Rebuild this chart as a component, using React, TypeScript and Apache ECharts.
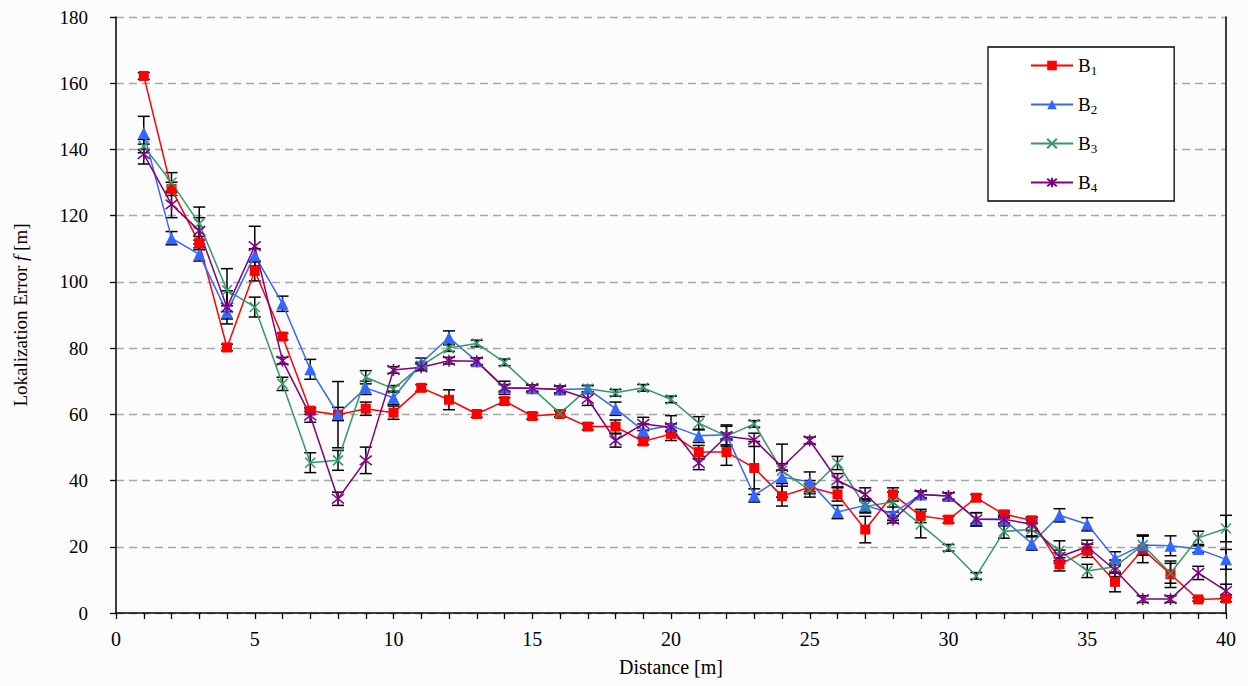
import React, { useEffect, useRef } from "react";
import * as echarts from "echarts";

const distance = [1,2,3,4,5,6,7,8,9,10,11,12,13,14,15,16,17,18,19,20,21,22,23,24,25,26,27,28,29,30,31,32,33,34,35,36,37,38,39,40];

const seriesNames = ["B1", "B2", "B3", "B4"];

const b1 = [162.2,128.1,111.7,80.2,103.3,83.5,61.1,59.9,61.7,60.5,68,64.4,60.1,64,59.5,60.1,56.3,56.3,51.8,54.1,48.6,48.6,43.8,35.3,38,35.8,25.2,35.8,29.3,28.2,34.8,29.8,28,14.7,18.8,9.4,19.2,11.7,4.1,4.4];
const b2 = [145,113.2,108.3,90.8,108,93.4,73.6,60.1,68,65,75.5,83.2,76,68,67.9,67.5,67.7,61.7,55.1,56.6,53.5,53.8,35.5,41.1,39.6,30.5,32.5,30,35.8,35.3,28.3,28.2,21,29.5,26.8,16.5,20.5,20.3,19.3,16.2];
const b3 = [141,130,117.6,97.5,92.4,69.2,45.4,46.1,71.2,67.7,74.7,80,81.4,75.7,67.9,60.3,67.7,66.5,68,64.5,57.3,53.4,57.1,43,37,45.3,32.2,33.5,26.7,19.7,11.2,24.6,25.3,18.8,12.7,14,20.5,12,22.7,25.5];
const b4 = [138.6,123.4,115.4,92.3,110.8,76.2,59.6,34.5,46.1,73.4,74.2,76.2,76,68,67.9,67.5,64.7,52.1,57.1,56.1,45.3,53.4,52.3,44.1,52.1,40.1,35.8,28.2,35.8,35.3,28.3,28.3,26.8,17,20,13,4.2,4.2,12.1,6.7];

const errB1 = [1,2,2,1,3,1,1,10,2,2,1,3,1,1,1,1,1,2,1,2,2,4,8,3,2,2,4,2,2,1,1,1,1,2,2,3,4,4,0.5,1];
const errB2 = [5,2,2,2,2,2.3,3,2,2,2,1.5,2,1,2,1,1,1,2,2,3,2,3,2,2,3,2,2,2,1,1,2,1,2,2,2,2,3,3,1,3];
const errB3 = [2,3,5,6.5,3,2,3,3,2,1,1,1,1,1,1,1,1,1,1,1,2,1,1,8,2,2,2,3,4,1,1,2,2,3,2,2,3,3,2,4];
const errB4 = [3,4,4,5,6,1,2,2,4,1,1,1,1,1,1,1,2,2,2,1,2,3,2,1,1,2,2,1,1,1,2,2,2,2,2,2,1,1,2,2];

const yTicks = [0, 20, 40, 60, 80, 100, 120, 140, 160, 180];
const xLabelTicks = [0, 5, 10, 15, 20, 25, 30, 35, 40];

const FONT = "Liberation Serif";
const colors = ["#ff0000", "#3366ff", "#339966", "#800080"];
const symbols = [
  "rect",
  "triangle",
  "path://M0,0L10,10M10,0L0,10",
  "path://M0,1L10,9M10,1L0,9M5,0L5,10",
];
const symbolSizes = [10, 12, 10, 12];

function App() {
  const ref = useRef<HTMLDivElement>(null);
  useEffect(() => {
    if (!ref.current) return;
    const chart = echarts.init(ref.current, null, { renderer: "svg" });
    const values = [b1, b2, b3, b4];
    const errs = [errB1, errB2, errB3, errB4];

    const lineSeries = values.map((vals, i) => ({
      name: seriesNames[i],
      type: "line",
      z: 3,
      data: distance.map((d, k) => [d, vals[k]]),
      symbol: symbols[i],
      symbolSize: symbolSizes[i],
      lineStyle: { color: colors[i], width: 1.5 },
      itemStyle:
        i >= 2
          ? { color: "rgba(0,0,0,0)", borderColor: colors[i], borderWidth: 1.5 }
          : { color: colors[i], borderColor: colors[i], borderWidth: 0 },
      emphasis: { disabled: true },
    }));

    const errSeries = values.map((vals, i) => ({
      name: "err" + i,
      type: "custom",
      z: 2,
      silent: true,
      encode: { x: 0, y: [1, 2] },
      data: distance.map((d, k) => [d, vals[k] - errs[i][k], vals[k] + errs[i][k]]),
      renderItem: (params: any, api: any) => {
        const x = api.value(0);
        const lo = api.value(1);
        const hi = api.value(2);
        const p1 = api.coord([x, hi]);
        const p2 = api.coord([x, lo]);
        const w = 6;
        const style = { stroke: "#000", lineWidth: 1.5, fill: "none" };
        return {
          type: "group",
          children: [
            { type: "line", shape: { x1: p1[0], y1: p1[1], x2: p2[0], y2: p2[1] }, style },
            { type: "line", shape: { x1: p1[0] - w, y1: p1[1], x2: p1[0] + w, y2: p1[1] }, style },
            { type: "line", shape: { x1: p2[0] - w, y1: p2[1], x2: p2[0] + w, y2: p2[1] }, style },
          ],
        };
      },
    }));

    chart.setOption({
      animation: false,
      backgroundColor: "#fcfcfc",
      textStyle: { fontFamily: FONT },
      grid: { left: 116, right: 22, top: 17, bottom: 73, containLabel: false },
      legend: {
        data: seriesNames,
        orient: "vertical",
        left: 988,
        top: 47,
        itemWidth: 42,
        itemHeight: 12,
        itemGap: 16,
        padding: [7, 77, 7, 42],
        backgroundColor: "#ffffff",
        borderColor: "#000",
        borderWidth: 1.3,
        borderRadius: 0,
        selectedMode: false,
        formatter: (name: string) => `{b|B}{s|${name.slice(1)}}`,
        textStyle: {
          fontFamily: FONT,
          rich: {
            b: { fontSize: 19, fontFamily: FONT, color: "#000", lineHeight: 22 },
            s: { fontSize: 13, fontFamily: FONT, color: "#000", lineHeight: 22, padding: [10, 0, 0, 0] },
          },
        },
      },
      xAxis: {
        type: "value",
        min: 0,
        max: 40,
        interval: 1,
        name: "Distance [m]",
        nameLocation: "middle",
        nameGap: 44,
        nameTextStyle: { fontSize: 20, fontFamily: FONT, color: "#000" },
        axisLine: { show: true, onZero: false, lineStyle: { color: "#000", width: 1.5 } },
        axisTick: { show: true, length: 6, lineStyle: { color: "#000", width: 1.3 } },
        axisLabel: {
          fontSize: 20,
          fontFamily: FONT,
          color: "#000",
          margin: 16,
          formatter: (v: number) => (xLabelTicks.indexOf(v) >= 0 ? String(v) : ""),
        },
        splitLine: { show: false },
      },
      yAxis: [
        {
          type: "value",
          min: yTicks[0],
          max: yTicks[yTicks.length - 1],
          interval: 20,
          name: "{a|Lokalization Error }{i|f}{a| [m]}",
          nameLocation: "middle",
          nameGap: 86,
          nameTextStyle: {
            fontFamily: FONT,
            rich: {
              a: { fontSize: 19, fontFamily: FONT, color: "#000" },
              i: { fontSize: 19, fontFamily: FONT, fontStyle: "italic", color: "#000" },
            },
          },
          axisLine: { show: true, lineStyle: { color: "#000", width: 1.5 } },
          axisTick: { show: true, length: 6, lineStyle: { color: "#000", width: 1.3 } },
          axisLabel: { fontSize: 19, fontFamily: FONT, color: "#000", margin: 28 },
          splitLine: { show: true, lineStyle: { type: [8, 5], color: "#a6a6a6", width: 1.3 } },
        },
        {
          type: "value",
          position: "right",
          min: yTicks[0],
          max: yTicks[yTicks.length - 1],
          interval: 20,
          axisLine: { show: true, lineStyle: { color: "#000", width: 1.5 } },
          axisTick: { show: false },
          axisLabel: { show: false },
          splitLine: { show: false },
        },
      ],
      series: [...errSeries, ...lineSeries],
    });
    return () => chart.dispose();
  }, []);
  return (
    <div
      ref={ref}
      style={{ position: "absolute", left: 0, top: 0, width: 1248, height: 686 }}
    />
  );
}

export default App;
